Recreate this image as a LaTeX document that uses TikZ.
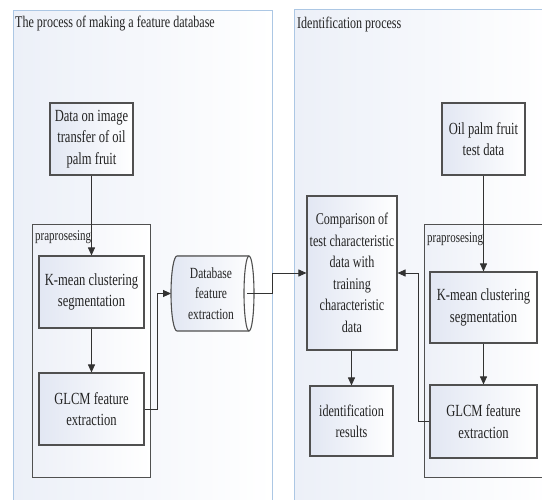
\documentclass[tikz,border=0pt]{standalone}
\usepackage{fontspec}
\setmainfont[FakeStretch=0.74]{Liberation Serif}
\usetikzlibrary{arrows.meta}
\definecolor{panelborder}{RGB}{172,199,228}
\definecolor{panelshade}{RGB}{236,240,248}
\definecolor{boxborder}{RGB}{80,80,80}
\definecolor{boxshade}{RGB}{226,231,243}
\definecolor{txt}{RGB}{35,35,35}
\definecolor{linec}{RGB}{50,50,50}
\tikzset{
  panel/.style={draw=panelborder, line width=1.2pt, left color=panelshade, right color=white},
  box/.style={draw=boxborder, line width=1.1pt, left color=boxshade, right color=white,
    align=center, inner sep=0pt, text=txt, font=\fontsize{17}{21.5}\selectfont},
  prebox/.style={draw=boxborder, line width=1.1pt, left color=boxshade!60, right color=white, inner sep=0pt},
  title/.style={anchor=west, inner sep=0pt, text=txt, font=\fontsize{16.3}{19}\selectfont},
  prelabel/.style={anchor=west, inner sep=0pt, text=txt, font=\fontsize{14.8}{17}\selectfont},
  arr/.style={draw=linec, line width=0.9pt, -{Triangle[length=8pt,width=7pt]}},
  ln/.style={draw=linec, line width=0.9pt}
}
\begin{document}
\begin{tikzpicture}[x=1pt,y=-1pt]
\useasboundingbox (0,0) rectangle (542,500);
\fill[white] (0,0) rectangle (542,500);
% panels
\node[panel, minimum width=259pt, minimum height=500pt, anchor=north west] (pL) at (13,10) {};
\node[panel, minimum width=260pt, minimum height=500pt, anchor=north west] (pR) at (294,9) {};
\node[title] (tL) at (15,24) {The process of making a feature database};
\node[title] (tR) at (297,24) {Identification process};
% preprocessing groups
\node[prebox, minimum width=118pt, minimum height=253pt, anchor=north west] (preL) at (32,224) {};
\node[prebox, minimum width=118pt, minimum height=253pt, anchor=north west] (preR) at (424,224) {};
\node[prelabel] (plL) at (35,237) {praprosesing};
\node[prelabel] (plR) at (427,239) {praprosesing};
% left boxes
\node[box, minimum width=83pt, minimum height=72pt] (data) at (91.5,139) {Data on image\\transfer of oil\\palm fruit};
\node[box, minimum width=105pt, minimum height=72pt] (kmL) at (91.5,292) {K-mean clustering\\segmentation};
\node[box, minimum width=105pt, minimum height=72pt] (glL) at (91.5,409) {GLCM feature\\extraction};
% database cylinder
\node[inner sep=0pt, minimum width=78pt, minimum height=75pt, align=center, text=txt,
      font=\fontsize{15.5}{20.5}\selectfont] (db) at (211,293.5) {Database\\feature\\extraction};
\filldraw[draw=boxborder, line width=1.1pt, left color=boxshade, right color=white]
  (177,256) -- (249,256) arc[start angle=90, end angle=-90, x radius=5pt, y radius=37.5pt]
  -- (177,331) arc[start angle=270, end angle=90, x radius=6pt, y radius=37.5pt] -- cycle;
\draw[draw=boxborder, line width=1.1pt] (249,256) arc[start angle=90, end angle=270, x radius=5pt, y radius=37.5pt];
\node[inner sep=0pt, align=center, text=txt, font=\fontsize{15.5}{20.5}\selectfont] at (211,293.5) {Database\\feature\\extraction};
\coordinate (dbout) at (247,293.5);
\coordinate (dbin) at (171,293.5);
% right boxes
\node[box, minimum width=83pt, minimum height=72pt] (oil) at (483.5,139) {Oil palm fruit\\test data};
\node[box, minimum width=107pt, minimum height=71pt] (kmR) at (483.5,307.5) {K-mean clustering\\segmentation};
\node[box, minimum width=107pt, minimum height=73pt] (glR) at (483.5,421.5) {GLCM feature\\extraction};
\node[box, minimum width=90pt, minimum height=154pt, font=\fontsize{16.4}{21.5}\selectfont] (cmp) at (352,273)
  {Comparison of\\test characteristic\\data with\\training\\characteristic\\data};
\node[box, minimum width=83pt, minimum height=70pt, font=\fontsize{16.4}{21}\selectfont] (res) at (351.5,421) {identification\\results};
% connectors
\draw[arr] (data) -- (kmL);
\draw[arr] (kmL) -- (glL);
\draw[arr] (glL.east) -- (157,409) |- (dbin);
\draw[arr] (dbout) -- (272,293.5) |- (cmp.west);
\draw[arr] (oil) -- (kmR);
\draw[arr] (kmR) -- (glR);
\draw[arr] (glR.west) -- (418,421.5) |- (cmp.east);
\draw[arr] (cmp.south -| res.north) -- (res.north);
\end{tikzpicture}
\end{document}
